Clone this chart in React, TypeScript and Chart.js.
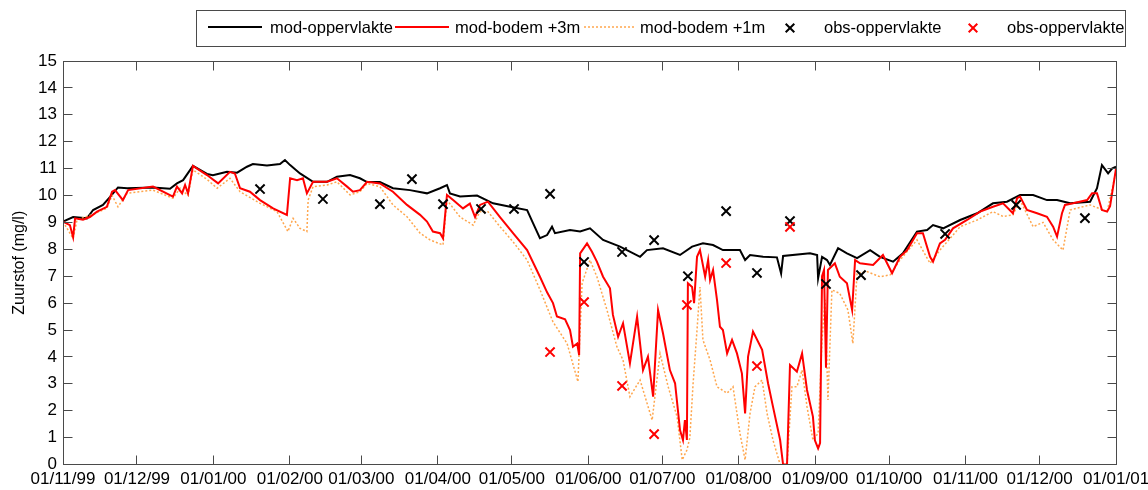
import React, { useEffect, useRef } from 'react';
import { Chart, registerables } from 'chart.js';

Chart.register(...registerables);

// x values are days since 01/11/1999
const monthTickDays = [0, 30, 61, 92, 121, 152, 182, 213, 243, 274, 305, 335, 366, 396, 427];
const monthTickLabels = ['01/11/99', '01/12/99', '01/01/00', '01/02/00', '01/03/00', '01/04/00', '01/05/00', '01/06/00', '01/07/00', '01/08/00', '01/09/00', '01/10/00', '01/11/00', '01/12/00', '01/01/01'];

const surfaceDays = [0, 4.1, 9.7, 12.2, 16.2, 19.1, 22.3, 26.0, 36.5, 43.4, 46.2, 48.7, 52.7, 58.4, 60.8, 66.5, 70.6, 74.6, 77.0, 82.7, 88.0, 90.0, 92.1, 96.1, 101.4, 107.1, 111.1, 116.4, 120.4, 123.3, 128.5, 133.8, 140.7, 147.6, 152.9, 155.7, 156.9, 161.0, 167.9, 174.4, 181.3, 188.2, 190.6, 193.4, 196.3, 198.3, 199.5, 205.6, 209.7, 213.7, 219.0, 225.9, 234.0, 236.8, 243.3, 250.2, 255.1, 259.5, 263.6, 267.6, 274.5, 276.6, 278.6, 283.9, 289.5, 291.2, 292.0, 302.9, 305.8, 306.2, 307.8, 309.8, 311.0, 314.3, 317.9, 322.0, 327.3, 331.3, 336.6, 340.6, 346.3, 350.4, 352.8, 356.9, 363.8, 370.7, 377.1, 382.8, 388.1, 393.4, 399.0, 403.1, 408.4, 416.5, 419.3, 421.3, 423.8, 425.4, 427];
const surfaceValues = [9.03, 9.2, 9.15, 9.46, 9.65, 9.95, 10.3, 10.27, 10.3, 10.25, 10.45, 10.57, 11.1, 10.8, 10.75, 10.88, 10.85, 11.07, 11.17, 11.12, 11.17, 11.32, 11.13, 10.82, 10.51, 10.51, 10.7, 10.76, 10.64, 10.5, 10.5, 10.27, 10.2, 10.08, 10.27, 10.39, 10.08, 9.96, 10.0, 9.71, 9.58, 9.46, 8.97, 8.41, 8.53, 8.84, 8.6, 8.72, 8.66, 8.78, 8.35, 8.1, 7.72, 7.97, 8.04, 7.79, 8.1, 8.22, 8.16, 7.97, 7.97, 7.6, 7.79, 7.72, 7.7, 7.1, 7.75, 7.85, 7.79, 6.92, 7.72, 7.6, 7.42, 8.04, 7.85, 7.67, 7.97, 7.72, 7.54, 7.85, 8.66, 8.72, 8.9, 8.78, 9.09, 9.34, 9.71, 9.77, 10.02, 10.02, 9.83, 9.83, 9.71, 9.77, 10.27, 11.13, 10.82, 11.0, 11.07];

const bottom3Days = [0, 2.8, 4.1, 4.9, 8.1, 10.9, 13.8, 17.8, 19.9, 21.1, 24.3, 26.4, 36.5, 44.6, 46.2, 48.3, 49.5, 50.7, 52.7, 58.4, 62.9, 67.7, 69.7, 71.8, 75.8, 79.9, 85.2, 90.8, 92.1, 94.9, 97.3, 98.9, 101.4, 107.1, 111.1, 115.2, 117.6, 120.4, 123.3, 128.5, 133.8, 139.5, 144.8, 147.6, 150.0, 152.9, 154.1, 155.7, 158.2, 162.2, 165.0, 167.1, 169.1, 172.3, 177.2, 182.5, 188.2, 193.4, 196.3, 198.7, 200.3, 203.6, 205.6, 206.8, 208.5, 209.3, 209.7, 212.5, 214.5, 216.5, 219.0, 221.8, 223.0, 225.1, 227.1, 229.9, 232.8, 235.2, 237.2, 239.3, 241.3, 243.3, 246.1, 248.2, 250.2, 251.4, 252.2, 253.0, 253.4, 255.1, 255.9, 257.1, 258.3, 260.4, 261.6, 262.4, 263.6, 265.2, 266.4, 267.6, 269.3, 271.3, 273.3, 275.3, 276.6, 277.8, 279.8, 283.5, 285.9, 287.9, 290.8, 292.0, 293.6, 294.8, 297.6, 299.7, 301.7, 304.1, 304.9, 306.2, 307.0, 307.8, 308.6, 309.4, 310.2, 313.0, 315.0, 317.9, 320.0, 321.2, 323.2, 328.5, 332.5, 336.2, 339.4, 342.3, 346.3, 348.7, 351.6, 352.8, 355.6, 357.7, 360.9, 366.6, 371.9, 377.1, 381.2, 385.2, 386.9, 388.1, 390.9, 395.0, 399.0, 401.5, 403.1, 405.1, 406.3, 409.6, 415.3, 417.3, 419.3, 421.3, 423.4, 424.6, 427];
const bottom3Values = [9.03, 8.9, 8.45, 9.15, 9.1, 9.2, 9.4, 9.58, 10.14, 10.2, 9.83, 10.2, 10.33, 9.96, 10.33, 10.08, 10.39, 10.08, 11.1, 10.76, 10.45, 10.88, 10.82, 10.27, 10.14, 9.83, 9.52, 9.28, 10.64, 10.57, 10.64, 10.08, 10.51, 10.51, 10.64, 10.33, 10.14, 10.2, 10.51, 10.45, 10.14, 9.65, 9.28, 9.03, 8.66, 8.6, 8.41, 10.02, 9.83, 9.52, 9.7, 9.2, 9.65, 9.77, 9.2, 8.6, 7.97, 6.98, 6.4, 6.0, 5.5, 5.4, 5.0, 4.38, 4.5, 4.07, 7.85, 8.22, 7.91, 7.54, 6.98, 6.55, 5.56, 4.75, 5.25, 3.76, 5.5, 3.51, 4.01, 2.52, 5.74, 4.88, 3.51, 3.02, 1.28, 0.91, 1.65, 0.91, 6.74, 6.6, 6.0, 7.72, 7.97, 6.98, 7.6, 6.86, 7.23, 6.12, 5.12, 5.0, 4.13, 4.63, 4.13, 3.39, 1.9, 4.01, 4.94, 4.26, 3.02, 2.15, 0.91, 0.0, 0.0, 3.7, 3.45, 4.13, 2.77, 1.78, 0.9, 0.6, 0.8, 7.0, 7.23, 3.6, 7.23, 7.48, 6.98, 6.74, 5.74, 7.6, 7.48, 7.42, 7.79, 7.11, 7.72, 7.97, 8.6, 8.6, 7.72, 7.54, 8.22, 8.35, 8.78, 9.09, 9.4, 9.58, 9.71, 9.34, 9.9, 9.96, 9.46, 9.34, 9.21, 8.84, 8.47, 9.34, 9.65, 9.71, 9.83, 10.08, 10.08, 9.46, 9.4, 9.6, 11.0];

const bottom1Days = [0, 4.1, 5.7, 12.2, 17.8, 19.9, 22.3, 26.0, 36.5, 44.6, 47.5, 50.7, 52.7, 58.4, 62.5, 67.7, 71.8, 79.9, 86.8, 91.2, 93.3, 96.1, 98.9, 99.4, 101.4, 107.1, 111.1, 116.4, 120.4, 123.3, 128.5, 133.8, 139.5, 144.8, 148.8, 154.1, 155.7, 161.0, 166.3, 169.1, 172.3, 177.2, 182.5, 188.2, 193.4, 198.7, 204.4, 208.8, 210.5, 213.7, 216.5, 220.6, 224.6, 227.1, 229.9, 234.0, 238.9, 242.1, 245.4, 249.0, 251.1, 253.0, 254.2, 255.5, 257.1, 258.3, 259.5, 262.4, 265.2, 269.3, 271.7, 274.5, 276.6, 278.6, 280.6, 283.5, 285.5, 287.9, 290.8, 293.6, 295.6, 297.6, 299.7, 301.7, 304.1, 306.2, 307.8, 309.0, 310.2, 311.8, 315.0, 318.3, 320.3, 322.0, 326.0, 331.3, 335.4, 339.4, 346.3, 351.6, 355.6, 363.8, 370.7, 377.1, 381.2, 385.2, 388.1, 393.4, 397.4, 401.5, 405.5, 408.4, 416.5, 423.4, 427];
const bottom1Values = [9.03, 8.4, 9.1, 9.3, 9.53, 10.0, 9.58, 10.08, 10.2, 9.9, 10.27, 10.0, 10.95, 10.6, 10.27, 10.64, 10.14, 9.71, 9.4, 8.66, 9.15, 8.78, 8.66, 9.83, 10.33, 10.39, 10.51, 10.02, 10.14, 10.45, 10.33, 9.65, 9.21, 8.6, 8.35, 8.16, 9.83, 9.2, 8.9, 9.4, 9.4, 8.84, 8.28, 7.6, 6.5, 5.3, 4.5, 3.08, 6.74, 7.6, 6.98, 5.74, 4.38, 3.88, 2.52, 3.14, 1.65, 4.13, 2.89, 1.78, 0.17, 0.54, 1.0, 3.0, 5.0, 6.6, 4.63, 3.88, 2.89, 2.65, 2.89, 1.16, 0.17, 1.9, 2.89, 3.14, 1.9, 0.91, 0.0, 0.0, 2.89, 2.89, 3.51, 2.15, 0.91, 1.16, 4.63, 6.12, 2.4, 6.49, 6.36, 5.74, 4.5, 7.11, 7.17, 6.98, 7.05, 7.6, 8.35, 7.48, 7.97, 8.84, 9.09, 9.4, 9.22, 9.28, 9.83, 8.84, 9.0, 8.35, 7.97, 9.46, 9.65, 9.4, 10.9];

const obsSurfaceDays = [79.9, 105.4, 128.5, 141.5, 154.1, 169.5, 182.9, 197.5, 211.3, 226.7, 239.7, 253.4, 268.9, 281.4, 294.8, 309.4, 323.6, 357.7, 386.5, 414.4];
const obsSurfaceValues = [10.24, 9.87, 9.68, 10.61, 9.68, 9.5, 9.5, 10.06, 7.53, 7.9, 8.34, 7.0, 9.42, 7.12, 9.05, 6.71, 7.04, 8.57, 9.65, 9.16];

const obsBottomDays = [197.5, 211.3, 226.7, 239.7, 253.0, 268.9, 281.4, 294.8];
const obsBottomValues = [4.18, 6.04, 2.92, 1.13, 5.93, 7.49, 3.66, 8.83];

const FONT = '"Liberation Sans", Arial, Helvetica, sans-serif';
const ORANGE = '#ffa64d';

const toPoints = (xs: number[], ys: number[]) => xs.map((x, i) => ({ x, y: ys[i] }));

const legendLayout = [
  { key: 'surf', kind: 'line', x0: 208, x1: 262, tx: 270 },
  { key: 'b3', kind: 'line', x0: 395, x1: 449, tx: 455 },
  { key: 'b1', kind: 'line', x0: 584, x1: 634, tx: 640 },
  { key: 'obsS', kind: 'mark', cx: 790, tx: 824 },
  { key: 'obsB', kind: 'mark', cx: 973, tx: 1007 },
];

const framePlugin = {
  id: 'frameTicks',
  afterDatasetsDraw(chart: any) {
    const { ctx, chartArea: a, scales } = chart;
    const L = Math.floor(a.left) + 0.5;
    const R = Math.floor(a.right) + 0.5;
    const T = Math.floor(a.top) + 0.5;
    const B = Math.floor(a.bottom) + 0.5;
    const len = 9;
    ctx.save();
    ctx.strokeStyle = '#4a4a4a';
    ctx.lineWidth = 1;
    ctx.setLineDash([]);
    ctx.strokeRect(L, T, R - L, B - T);
    ctx.beginPath();
    scales.x.ticks.forEach((t: any) => {
      const px = Math.floor(scales.x.getPixelForValue(t.value)) + 0.5;
      ctx.moveTo(px, B); ctx.lineTo(px, B - len);
      ctx.moveTo(px, T); ctx.lineTo(px, T + len);
    });
    scales.y.ticks.forEach((t: any) => {
      const py = Math.floor(scales.y.getPixelForValue(t.value)) + 0.5;
      ctx.moveTo(L, py); ctx.lineTo(L + len, py);
      ctx.moveTo(R, py); ctx.lineTo(R - len, py);
    });
    ctx.stroke();
    ctx.restore();
  },
};

const drawCross = (ctx: CanvasRenderingContext2D, x: number, y: number, h: number) => {
  ctx.beginPath();
  ctx.moveTo(x - h, y - h); ctx.lineTo(x + h, y + h);
  ctx.moveTo(x + h, y - h); ctx.lineTo(x - h, y + h);
  ctx.stroke();
};

const legendPlugin = {
  id: 'boxLegend',
  afterDraw(chart: any) {
    const ctx = chart.ctx as CanvasRenderingContext2D;
    const cy = 28;
    ctx.save();
    ctx.fillStyle = '#ffffff';
    ctx.fillRect(196.5, 10.5, 929, 36);
    ctx.strokeStyle = '#4a4a4a';
    ctx.lineWidth = 1;
    ctx.strokeRect(196.5, 10.5, 929, 36);
    ctx.font = `16.5px ${FONT}`;
    ctx.textBaseline = 'middle';
    ctx.textAlign = 'left';
    legendLayout.forEach((item: any) => {
      const ds = chart.data.datasets.find((d: any) => d.key === item.key);
      if (!ds) return;
      ctx.save();
      if (item.kind === 'line') {
        ctx.strokeStyle = ds.borderColor;
        ctx.lineWidth = ds.borderWidth;
        ctx.setLineDash(ds.borderDash || []);
        ctx.beginPath();
        ctx.moveTo(item.x0, cy - 1);
        ctx.lineTo(item.x1, cy - 1);
        ctx.stroke();
      } else {
        ctx.strokeStyle = ds.borderColor;
        ctx.lineWidth = ds.borderWidth;
        drawCross(ctx, item.cx, cy, 4.3);
      }
      ctx.restore();
      ctx.fillStyle = '#000';
      ctx.fillText(ds.label, item.tx, cy);
    });
    ctx.restore();
  },
};

export default function App() {
  const canvasRef = useRef<HTMLCanvasElement | null>(null);

  useEffect(() => {
    if (!canvasRef.current) return;
    const chart = new Chart(canvasRef.current, {
      type: 'line',
      data: {
        datasets: [
          {
            key: 'obsB', label: 'obs-oppervlakte', data: toPoints(obsBottomDays, obsBottomValues),
            showLine: false, pointStyle: 'crossRot', pointRadius: 6.5, borderColor: '#ff0000', backgroundColor: '#ff0000', borderWidth: 2,
          },
          {
            key: 'obsS', label: 'obs-oppervlakte', data: toPoints(obsSurfaceDays, obsSurfaceValues),
            showLine: false, pointStyle: 'crossRot', pointRadius: 6.5, borderColor: '#000000', backgroundColor: '#000000', borderWidth: 2,
          },
          {
            key: 'b3', label: 'mod-bodem +3m', data: toPoints(bottom3Days, bottom3Values),
            borderColor: '#ff0000', borderWidth: 2, pointRadius: 0, tension: 0,
          },
          {
            key: 'b1', label: 'mod-bodem +1m', data: toPoints(bottom1Days, bottom1Values),
            borderColor: ORANGE, borderWidth: 1.5, borderDash: [2, 2], pointRadius: 0, tension: 0,
          },
          {
            key: 'surf', label: 'mod-oppervlakte', data: toPoints(surfaceDays, surfaceValues),
            borderColor: '#000000', borderWidth: 2, pointRadius: 0, tension: 0,
          },
        ] as any,
      },
      options: {
        animation: false,
        responsive: true,
        maintainAspectRatio: false,
        layout: { padding: { top: 61, right: 32, left: 0, bottom: 0 } },
        plugins: { legend: { display: false }, tooltip: { enabled: false } },
        scales: {
          x: {
            type: 'linear',
            min: 0,
            max: 427,
            grid: { display: false, drawTicks: false },
            border: { display: false },
            afterBuildTicks: (axis: any) => {
              axis.ticks = monthTickDays.map((v) => ({ value: v }));
            },
            afterFit: (axis: any) => {
              axis.height = 25.5;
              axis.paddingLeft = 0;
              axis.paddingRight = 0;
            },
            ticks: {
              autoSkip: false,
              maxRotation: 0,
              minRotation: 0,
              padding: 5,
              color: '#000',
              font: { family: FONT, size: 17 },
              callback: (_v: any, i: number) => monthTickLabels[i],
            },
          },
          y: {
            type: 'linear',
            min: 0,
            max: 15,
            grid: { display: false, drawTicks: false },
            border: { display: false },
            afterFit: (axis: any) => {
              axis.width = 63;
              axis.paddingTop = 0;
              axis.paddingBottom = 0;
            },
            ticks: {
              stepSize: 1,
              padding: 6,
              color: '#000',
              font: { family: FONT, size: 17 },
            },
            title: {
              display: true,
              text: 'Zuurstof (mg/l)',
              color: '#000',
              font: { family: FONT, size: 16 },
              padding: { top: 10, bottom: 0 },
            },
          },
        },
      } as any,
      plugins: [framePlugin, legendPlugin],
    });
    return () => chart.destroy();
  }, []);

  return (
    <div style={{ position: 'fixed', left: 0, top: 0, width: 1148, height: 490, background: '#fff' }}>
      <canvas ref={canvasRef} />
    </div>
  );
}
